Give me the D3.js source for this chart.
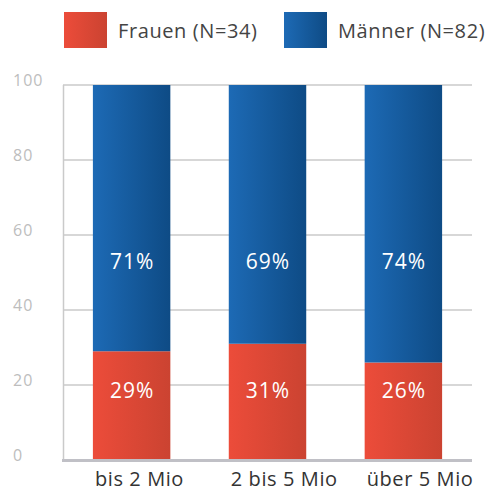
<!DOCTYPE html>
<html>
<head>
<meta charset="utf-8">
<script src="https://cdn.jsdelivr.net/npm/d3@7"></script>
<style>
  body { margin: 0; background: #fff; }
  svg { display: block; font-family: "Open Sans", sans-serif; }
</style>
</head>
<body>
<div id="chart"></div>
<script>
var width = 493,
    height = 492;

// Data
var categories = ['bis 2 Mio', '2 bis 5 Mio', 'über 5 Mio'];
var frauen = [29, 31, 26];
var maenner = [71, 69, 74];
var seriesNames = ['Frauen (N=34)', 'Männer (N=82)'];
var yTicks = [0, 20, 40, 60, 80, 100];

var svg = d3.select('#chart')
    .append('svg')
    .attr('width', width)
    .attr('height', height);

// Gradients
var defs = svg.append('defs');
function gradient(id, from, to) {
    var g = defs.append('linearGradient')
        .attr('id', id)
        .attr('x1', '0%').attr('x2', '100%')
        .attr('y1', '0%').attr('y2', '0%');
    g.append('stop').attr('offset', '0%').attr('stop-color', from);
    g.append('stop').attr('offset', '100%').attr('stop-color', to);
}
gradient('gradRed', '#ec4c3a', '#cb4331');
gradient('gradBlue', '#1d6ab5', '#0e4b85');
var fills = ['url(#gradRed)', 'url(#gradBlue)'];

// Scales
var x = d3.scaleBand()
    .domain(categories)
    .range([63, 472])
    .paddingInner(0.43)
    .paddingOuter(0.22);

var y = d3.scaleLinear()
    .domain([0, 100])
    .range([460, 85]);

// Gridlines
svg.append('g')
    .selectAll('line')
    .data(yTicks.filter(function(d) { return d > 0; }))
    .enter()
    .append('line')
    .attr('x1', 63)
    .attr('x2', 472)
    .attr('y1', function(d) { return y(d); })
    .attr('y2', function(d) { return y(d); })
    .attr('stroke', '#cacaca')
    .attr('stroke-width', 1.5);

// Left axis line
svg.append('line')
    .attr('x1', 63.5).attr('x2', 63.5)
    .attr('y1', y(100)).attr('y2', y(0))
    .attr('stroke', '#cacaca')
    .attr('stroke-width', 1.5);

// Tick labels
svg.append('g')
    .selectAll('text')
    .data(yTicks)
    .enter()
    .append('text')
    .attr('x', 13)
    .attr('y', function(d) { return y(d) + 1; })
    .attr('fill', '#bdbdbd')
    .style('font-size', '16px')
    .style('letter-spacing', '1px')
    .text(function(d) { return d; });

// Stack
var rows = categories.map(function(c, i) {
    return {cat: c, f: frauen[i], m: maenner[i]};
});
var stack = d3.stack().keys(['f', 'm'])(rows);

var layer = svg.selectAll('.layer')
    .data(stack)
    .enter()
    .append('g')
    .attr('class', 'layer')
    .attr('fill', function(d, i) { return fills[i]; });

layer.selectAll('rect')
    .data(function(d) { return d; })
    .enter()
    .append('rect')
    .attr('x', function(d) { return x(d.data.cat); })
    .attr('width', x.bandwidth())
    .attr('y', function(d) { return y(d[1]); })
    .attr('height', function(d) { return y(d[0]) - y(d[1]); });

// Value labels (fixed heights per series)
var labelLevels = [18.6, 53];
layer.selectAll('text')
    .data(function(d, i) { return d.map(function(p) { return {p: p, level: labelLevels[i]}; }); })
    .enter()
    .append('text')
    .attr('x', function(d) { return x(d.p.data.cat) + x.bandwidth() / 2 + 0.5; })
    .attr('y', function(d) { return y(d.level); })
    .attr('dy', '0.35em')
    .attr('text-anchor', 'middle')
    .attr('fill', '#fff')
    .style('font-size', '21px')
    .style('letter-spacing', '1px')
    .text(function(d) { return (d.p[1] - d.p[0]) + '%'; });

// Baseline
svg.append('line')
    .attr('x1', 62).attr('x2', 472)
    .attr('y1', 460.5).attr('y2', 460.5)
    .attr('stroke', '#c0c0c6')
    .attr('stroke-width', 3);

// X labels (left-aligned with bar start)
svg.append('g')
    .selectAll('text')
    .data(categories)
    .enter()
    .append('text')
    .attr('x', function(d) { return x(d) + 2; })
    .attr('y', 486)
    .attr('fill', '#333')
    .style('font-size', '20px')
    .style('letter-spacing', '0.6px')
    .text(function(d) { return d; });

// Legend
var legendX = [64, 284];
var legend = svg.selectAll('.legend')
    .data(seriesNames)
    .enter()
    .append('g')
    .attr('class', 'legend')
    .attr('transform', function(d, i) { return 'translate(' + legendX[i] + ',12)'; });

legend.append('rect')
    .attr('width', 43)
    .attr('height', 36)
    .attr('fill', function(d, i) { return fills[i]; });

legend.append('text')
    .attr('x', 54)
    .attr('y', 19)
    .attr('dy', '0.35em')
    .attr('fill', '#444')
    .style('font-size', '20px')
    .style('letter-spacing', '0.6px')
    .text(function(d) { return d; });
</script>
</body>
</html>
